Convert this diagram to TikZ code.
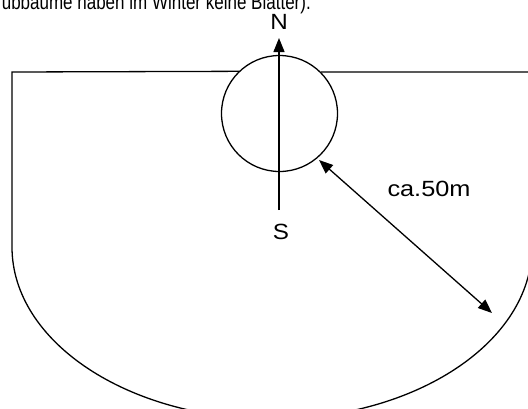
\documentclass[tikz,border=0pt]{standalone}
\usepackage{fontspec}
\setmainfont{Liberation Sans}
\usetikzlibrary{arrows.meta}
\begin{document}
\begin{tikzpicture}[x=1pt,y=1pt,
  outline/.style={line width=1.3pt},
  tip/.style={-{Triangle[length=14pt,width=11pt]}},
  lbl/.style={inner sep=0pt, font=\fontsize{22}{26}\selectfont}]
\useasboundingbox (0,0) rectangle (528,-408);
% top text (cut off at the top edge)
\node[anchor=base east, inner sep=0pt, font=\fontsize{17}{20}\selectfont] (caption) at (311,-9) {\scalebox{1}[1.25]{ubbäume haben im Winter keine Blätter).}};
% tree circle
\node[draw, outline, circle, minimum size=116pt, inner sep=0pt] (tree) at (279.5,-113.5) {};
% field outline
\draw[outline] (tree.{180-45.7}) -- (12,-72) -- (12,-247)
  arc[start angle=180, end angle=360, x radius=260, y radius=172]
  -- (532,-72) -- (tree.{45.7});
% north-south arrow
\coordinate (sEnd) at (279,-210);
\coordinate (nEnd) at (279,-38);
\draw[outline, tip] (sEnd) -- (nEnd);
\node[lbl] (N) at (279,-22) {\scalebox{1.1}[1]{N}};
\node[lbl] (S) at (281,-232) {\scalebox{1.1}[1]{S}};
% distance arrow
\coordinate (a1) at (319,-160);
\coordinate (a2) at (492,-313);
\draw[outline, {Triangle[length=14pt,width=11pt]}-{Triangle[length=14pt,width=11pt]}] (a1) -- (a2);
\node[lbl] (dist) at (429,-189) {\scalebox{1.15}[1]{ca.50m}};
\end{tikzpicture}
\end{document}
